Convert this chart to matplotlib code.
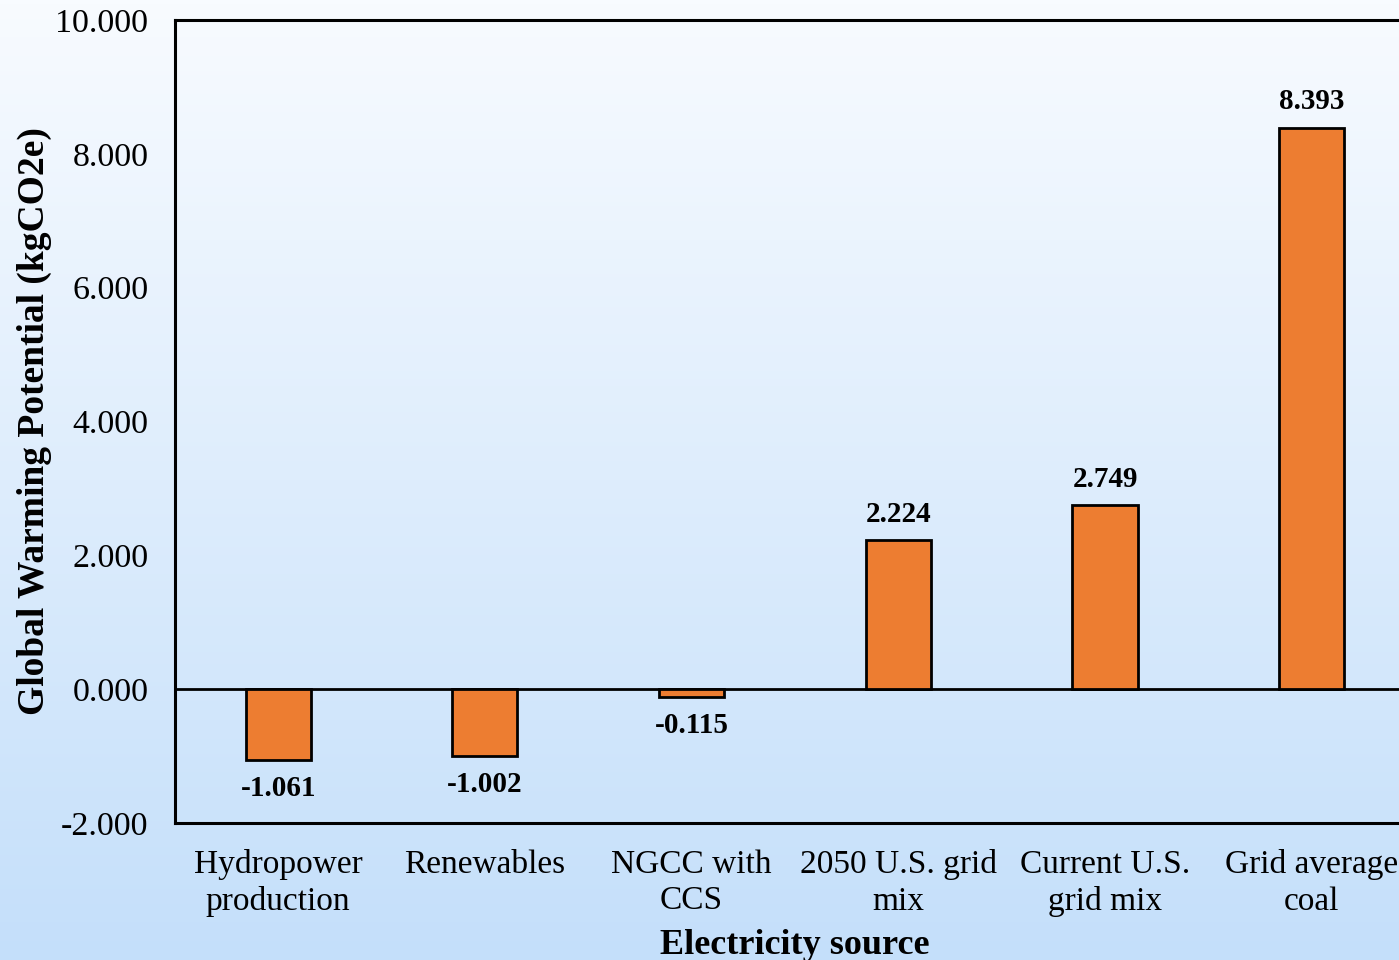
import numpy as np
import matplotlib.pyplot as plt
from matplotlib.colors import LinearSegmentedColormap

plt.rcParams['font.family'] = ['Liberation Serif', 'DejaVu Serif']

categories = ['Hydropower\nproduction', 'Renewables', 'NGCC with\nCCS',
              '2050 U.S. grid\nmix', 'Current U.S.\ngrid mix', 'Grid average\ncoal']
gwp = [-1.061, -1.002, -0.115, 2.224, 2.749, 8.393]
yticks = [-2, 0, 2, 4, 6, 8, 10]

fig = plt.figure(figsize=(13.99, 9.6), dpi=100)

# vertical background gradient, white to light blue
bg = fig.add_axes([0, 0, 1, 1], zorder=-10)
grad = np.linspace(0, 1, 256).reshape(-1, 1)
cmap_bg = LinearSegmentedColormap.from_list('bg', ['#f8fbff', '#c4dffa'])
bg.imshow(grad, aspect='auto', cmap=cmap_bg, extent=[0, 1, 0, 1])
bg.axis('off')

ax = fig.add_axes([0.125, 0.1427, 0.8865, 0.8365])
ax.patch.set_alpha(0)

x = np.arange(len(categories))
ax.bar(x, gwp, width=0.315, color='#ED7D31', edgecolor='black', linewidth=2, zorder=3)
ax.axhline(0, color='black', linewidth=2, zorder=2)

for xi, v in zip(x, gwp):
    if v >= 0:
        ax.text(xi, v + 0.18, f'{v:.3f}', ha='center', va='bottom',
                fontsize=21, fontweight='bold')
    else:
        ax.text(xi, v - 0.22, f'{v:.3f}', ha='center', va='top',
                fontsize=21, fontweight='bold')

ax.set_xlim(-0.5, 5.5)
ax.set_ylim(-2, 10)
ax.set_yticks(yticks)
ax.set_yticklabels([f'{t:.3f}' for t in yticks], fontsize=24.5)
ax.set_xticks(x)
ax.set_xticklabels(categories, fontsize=24, linespacing=1.25)
ax.tick_params(axis='y', length=0, pad=19)
ax.tick_params(axis='x', length=0, pad=19)

for s in ax.spines.values():
    s.set_linewidth(2.2)

ax.set_ylabel('Global Warming Potential (kgCO2e)', fontsize=27, fontweight='bold', va='center')
ax.yaxis.set_label_coords(-0.113, 0.5)
ax.set_xlabel('Electricity source', fontsize=26, fontweight='bold', va='center')
ax.xaxis.set_label_coords(0.5, -0.152)

fig.savefig('out.png', dpi=100)
